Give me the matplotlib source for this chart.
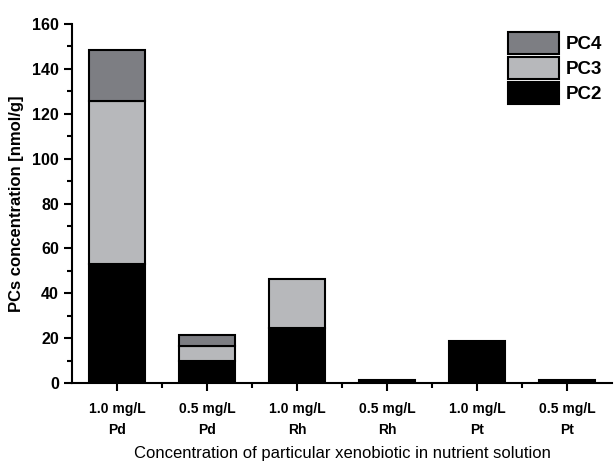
import matplotlib
matplotlib.use("Agg")
import matplotlib.pyplot as plt
import numpy as np
from matplotlib.ticker import MultipleLocator, FixedLocator

categories = ["1.0 mg/L\nPd", "0.5 mg/L\nPd", "1.0 mg/L\nRh", "0.5 mg/L\nRh", "1.0 mg/L\nPt", "0.5 mg/L\nPt"]
pc2 = [53, 10, 24.5, 1.2, 18.5, 1.5]
pc3 = [72.5, 6.5, 22, 0, 0, 0]
pc4 = [23, 5, 0, 0, 0, 0]

plt.rcParams['font.family'] = ['Liberation Sans', 'DejaVu Sans']

fig = plt.figure(figsize=(6.16, 4.62), dpi=100)
ax = fig.add_axes([0.117, 0.171, 0.877, 0.777])

x = np.arange(1, len(categories) + 1)
w = 0.62
pc2a = np.array(pc2); pc3a = np.array(pc3); pc4a = np.array(pc4)
ax.bar(x, pc2a, w, color='black', edgecolor='black', linewidth=1.5, label='PC2')
m3 = pc3a > 0
ax.bar(x[m3], pc3a[m3], w, bottom=pc2a[m3], color='#b7b8bb', edgecolor='black', linewidth=1.5, label='PC3')
m4 = pc4a > 0
ax.bar(x[m4], pc4a[m4], w, bottom=(pc2a + pc3a)[m4], color='#7d7e83', edgecolor='black', linewidth=1.5, label='PC4')

ax.set_xlim(0.5, 6.5)
ax.set_ylim(0, 160)
ax.spines['top'].set_visible(False)
ax.spines['right'].set_visible(False)
ax.spines['left'].set_linewidth(1.5)
ax.spines['bottom'].set_linewidth(1.5)

ax.set_xticks(x)
ax.set_xticklabels(categories, fontsize=10, fontweight='bold', linespacing=1.6)
ax.xaxis.set_minor_locator(FixedLocator(np.arange(1.5, 6.5, 1.0)))
ax.yaxis.set_major_locator(MultipleLocator(20))
ax.yaxis.set_minor_locator(MultipleLocator(10))
ax.tick_params(axis='both', which='major', direction='out', length=6, width=1.5)
ax.tick_params(axis='both', which='minor', direction='out', length=3.5, width=1.5)
ax.tick_params(axis='y', labelsize=11.5)
for lab in ax.get_yticklabels():
    lab.set_fontweight('bold')
ax.tick_params(axis='x', pad=8)

ax.set_ylabel('PCs concentration [nmol/g]', fontsize=12, fontweight='bold', labelpad=6)
ax.set_xlabel('Concentration of particular xenobiotic in nutrient solution', fontsize=12, labelpad=6.5)

handles, labels = ax.get_legend_handles_labels()
leg = ax.legend(handles[::-1], labels[::-1], loc='upper right', bbox_to_anchor=(1.012, 1.025),
                frameon=False, prop={'weight': 'bold', 'size': 13.5},
                handlelength=2.7, handleheight=1.45, labelspacing=0.15, handletextpad=0.35)

fig.savefig('out.png', dpi=100)
